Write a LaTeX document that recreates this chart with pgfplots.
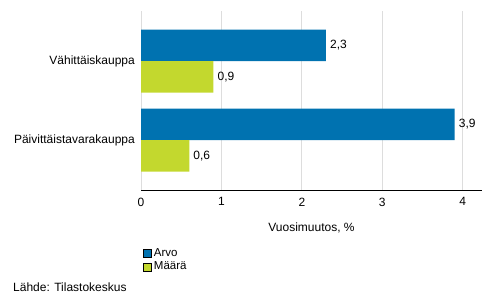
\documentclass[border=0pt]{standalone}
\usepackage{pgfplots}
\pgfplotsset{compat=1.18}
\usepackage{fontspec}
\setmainfont{Liberation Sans}
\definecolor{arvo}{RGB}{0,114,176}
\definecolor{maara}{RGB}{195,216,46}
\definecolor{gridc}{RGB}{221,221,221}
\begin{document}
\fontsize{12bp}{14bp}\selectfont
\begin{tikzpicture}
\useasboundingbox (0,0) rectangle (493bp,304bp);
\begin{axis}[
  at={(141bp,113.5bp)}, anchor=south west,
  scale only axis, width=341bp, height=179.5bp,
  xbar, bar width=31.5bp,
  xmin=0, xmax=4.24, ymin=-0.639, ymax=1.633,
  xtick={0,1,2,3,4},
  ytick={0,1},
  yticklabels={Päivittäistavarakauppa,Vähittäiskauppa},
  axis lines*=left,
  x axis line style={black, line width=0.8pt, -},
  y axis line style={gridc, line width=0.8pt, -},
  xmajorgrids, grid style={gridc, line width=0.8pt},
  major tick length=0pt,
  tick label style={font=\fontsize{12bp}{14bp}\selectfont},
  /pgf/number format/assume math mode=true,
  xticklabel style={yshift=-3bp},
  yticklabel style={xshift=-2bp},
  xlabel={Vuosimuutos, \%},
  xlabel style={font=\fontsize{12bp}{14bp}\selectfont, yshift=-8bp},
  nodes near coords,
  nodes near coords style={font=\fontsize{12bp}{14bp}\selectfont, xshift=0bp,
    /pgf/number format/.cd, use comma, fixed, fixed zerofill, precision=1, assume math mode=true},
  legend style={at={(0.006,-0.31)}, anchor=north west, draw=none, fill=none,
    font=\fontsize{11.5bp}{13bp}\selectfont, row sep=0bp, inner sep=0pt,
    legend cell align=left},
]
\addplot[draw=none, fill=arvo, bar shift=15.75bp, legend image code/.code={\draw[draw=black, line width=0.7pt, fill=arvo] (0bp,-4bp) rectangle (8bp,4bp);}] coordinates {(3.9,0) (2.3,1)};
\addlegendentry{Arvo}
\addplot[draw=none, fill=maara, bar shift=-15.75bp, legend image code/.code={\draw[draw=black, line width=0.7pt, fill=maara] (0bp,-4bp) rectangle (8bp,4bp);}] coordinates {(0.6,0) (0.9,1)};
\addlegendentry{Määrä}
\end{axis}
\node[anchor=west, inner sep=0pt, font=\fontsize{12bp}{14bp}\selectfont] at (13bp,17bp) {Lähde: Tilastokeskus};
\end{tikzpicture}
\end{document}
